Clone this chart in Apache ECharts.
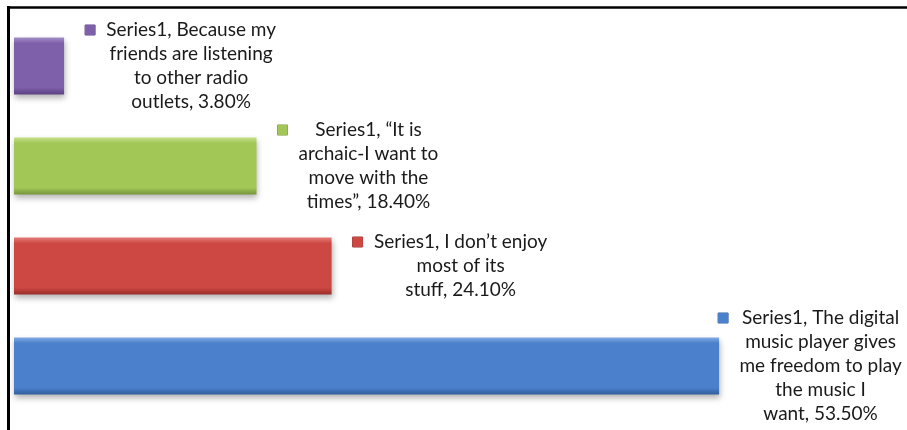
<!DOCTYPE html>
<html>
<head>
<meta charset="utf-8">
<script src="https://cdn.jsdelivr.net/npm/echarts@6/dist/echarts.min.js"></script>
<style>
  html, body { margin: 0; padding: 0; background: #fff; }
  #main { width: 907px; height: 430px; }
</style>
</head>
<body>
<div id="main"></div>
<script>
// data
const seriesName = 'Series1';
const categories = [
  'Because my\nfriends are listening\nto other radio\noutlets',
  '“It is\narchaic-I want to\nmove with the\ntimes”',
  'I don’t enjoy\nmost of its\nstuff',
  'The digital\nmusic player gives\nme freedom to play\nthe music I\nwant'
];
const values = [3.8, 18.4, 24.1, 53.5];
// light / mid / dark shade of each bar (bevel look)
const barShades = [
  ['#A58FC6', '#7E5FAA', '#5B4282'],
  ['#C6E08A', '#A2C756', '#77943B'],
  ['#E47D79', '#CE4843', '#982E2A'],
  ['#82ABE3', '#4A80CC', '#335E9C']
];

const fontFamily = 'Lato';
const fontSize = 19;
const ctx = document.createElement('canvas').getContext('2d');
ctx.font = fontSize + 'px ' + fontFamily;

function labelLines(i) {
  return (seriesName + ', ' + categories[i] + ', ' + values[i].toFixed(2) + '%').split('\n');
}

let chartDom = document.getElementById('main');
let myChart = echarts.init(chartDom);

let barData = values.map((v, i) => {
  let lines = labelLines(i);
  let w = Math.ceil(Math.max(...lines.map(l => ctx.measureText(l).width)));
  let sh = barShades[i];
  return {
    value: v,
    itemStyle: {
      color: new echarts.graphic.LinearGradient(0, 0, 0, 1, [
        { offset: 0, color: sh[0] },
        { offset: 0.1, color: sh[1] },
        { offset: 0.88, color: sh[1] },
        { offset: 1, color: sh[2] }
      ])
    },
    label: {
      offset: i === 3 ? [-22, 0] : [0, 0],
      formatter: lines.map((l, k) => (k === 0 ? '{m| }{g| }' : '{s| }') + '{t|' + l + '}').join('\n'),
      rich: {
        m: { width: 10, height: 10, backgroundColor: sh[1], borderColor: sh[2], borderWidth: 0.5, lineHeight: 24 },
        g: { width: 11, lineHeight: 24 },
        s: { width: 21, lineHeight: 24 },
        t: {
          width: w, align: 'center', lineHeight: 24,
          fontFamily: fontFamily, fontSize: fontSize, color: '#1a1a1a'
        }
      }
    }
  };
});

let option = {
  animation: false,
  grid: { left: 14, right: 10, top: 16, bottom: 14 },
  xAxis: {
    type: 'value',
    min: 0,
    max: 67,
    show: false
  },
  yAxis: {
    type: 'category',
    inverse: true,
    data: categories,
    show: false
  },
  series: [{
    name: seriesName,
    type: 'bar',
    barWidth: '57%',
    itemStyle: {
      shadowBlur: 6,
      shadowOffsetX: 1,
      shadowOffsetY: 3,
      shadowColor: 'rgba(0,0,0,0.3)'
    },
    label: {
      show: true,
      position: 'right',
      distance: 21
    },
    data: barData
  }],
  graphic: [
    { type: 'line', shape: { x1: 8.5, y1: 6, x2: 8.5, y2: 430 }, style: { stroke: '#000', lineWidth: 3 } },
    { type: 'line', shape: { x1: 7, y1: 7.5, x2: 907, y2: 7.5 }, style: { stroke: '#000', lineWidth: 2.5 } }
  ]
};

myChart.setOption(option);
</script>
</body>
</html>
